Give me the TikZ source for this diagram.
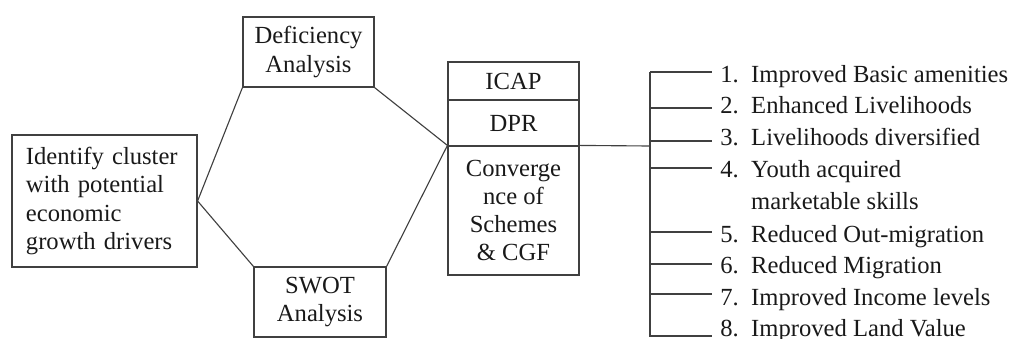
\documentclass[tikz,border=0pt]{standalone}
\usepackage{fontspec}
\setmainfont{Liberation Serif}
\usetikzlibrary{positioning}

\begin{document}
\begin{tikzpicture}[x=0.025cm,y=-0.025cm]
    \tikzset{
      box/.style={
        draw=black!75,
        line width=0.8pt,
        inner sep=0mm,
        align=center,
        text=black!90,
        font=\fontsize{17.5}{20}\selectfont
      },
      link/.style={draw=black!75, line width=0.8pt},
      item/.style={
        anchor=base west,
        inner xsep=0.2cm,
        inner ysep=0mm,
        align=left,
        text=black!90,
        font=\fontsize{17.5}{22.3}\selectfont
      }
    }
    \newcommand{\num}[1]{\makebox[22pt][l]{#1}}

    \useasboundingbox (0,0) rectangle (1014,338);

    %Cluster node
    \node[box,minimum width=4.625cm,minimum height=3.3cm,
          text width=3.925cm,align=left] at (104.5,201) (ident)
      {Identify cluster\\with potential\\economic\\growth drivers};

    %Top analysis node
    \node[box,minimum width=3.275cm,minimum height=1.75cm] at (308.5,52) (defic)
      {Deficiency\\Analysis};
    %Bottom analysis node
    \node[box,minimum width=3.3cm,minimum height=1.75cm] at (320,302) (swot)
      {SWOT\\Analysis};

    %Stacked plan nodes
    \node[box,minimum width=3.275cm,minimum height=0.95cm] at (513.5,81) (icap) {ICAP};
    \node[box,minimum width=3.275cm,minimum height=1.15cm] at (513.5,123) (dpr) {DPR};
    \node[box,minimum width=3.275cm,minimum height=3.225cm] at (513.5,210.5) (conv)
      {Converge\\nce of\\Schemes\\\& CGF};

    %Hexagon links
    \draw[link] (defic.south west) -- (ident.east) -- (swot.north west);
    \draw[link] (defic.south east) -- (conv.north west) -- (swot.north east);

    %Outcome bracket
    \coordinate (btop) at (650,72);
    \coordinate (bbot) at (650,337);
    \coordinate (hub) at (650,146);
    \draw[link] (conv.north east) -- (hub);
    \draw[link] (btop) -- (bbot);

    %Outcome items (base is the last line)
    \node[item] at (712,82) (out1) {\num{1.}Improved Basic amenities};
    \node[item] at (712,113) (out2) {\num{2.}Enhanced Livelihoods};
    \node[item] at (712,145) (out3) {\num{3.}Livelihoods diversified};
    \node[item] at (712,209) (out4) {\num{4.}Youth acquired\\\hspace*{22pt}marketable skills};
    \node[item] at (712,242) (out5) {\num{5.}Reduced Out-migration};
    \node[item] at (712,273) (out6) {\num{6.}Reduced Migration};
    \node[item] at (712,305) (out7) {\num{7.}Improved Income levels};
    \node[item] at (712,336) (out8) {\num{8.}Improved Land Value};

    %Ticks off the bracket
    \foreach \i/\ty in {1/72,2/108,3/141,4/168,5/232,6/264,7/294,8/336}{
      \coordinate (tick\i) at (650,\ty);
      \draw[link] (tick\i) -- (tick\i -| out\i.west);
    }
\end{tikzpicture}
\end{document}
